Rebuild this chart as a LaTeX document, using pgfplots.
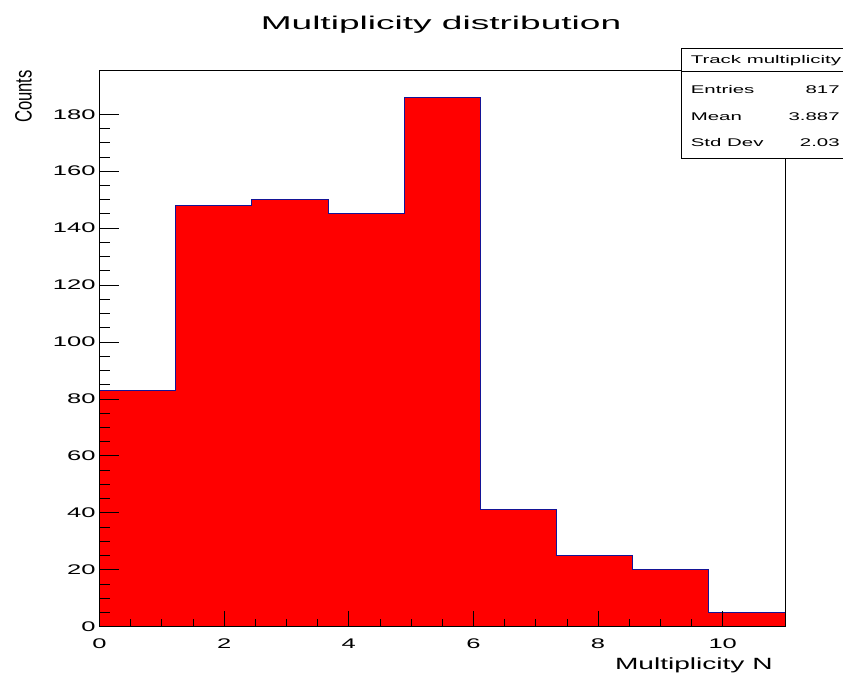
\documentclass[border=0pt]{standalone}
\usepackage{fontspec}
\setmainfont{Liberation Sans}
\usepackage{graphicx}
\usepackage{pgfplots}
\pgfplotsset{compat=1.18}
\definecolor{histline}{RGB}{20,20,150}
% the original canvas was stretched sideways; text is widened to match
\newcommand{\sx}{1.83}

\begin{document}
\begin{tikzpicture}[x=1bp,y=1bp]
\useasboundingbox (0,0) rectangle (843,673);
\begin{axis}[
  at={(99.5bp,46.3bp)}, anchor=south west, scale only axis,
  width=685.5bp, height=556bp,
  xmin=0, xmax=11, ymin=0, ymax=195.3,
  xtick={0,2,...,10}, ytick={0,20,...,180},
  minor x tick num=3, minor y tick num=3,
  tick pos=left, tick align=inside,
  major tick length=20bp, minor tick length=10bp,
  xtick style={/pgfplots/major tick length=16bp, /pgfplots/minor tick length=8bp},
  axis on top,
  axis line style={black, line width=1bp},
  tick style={black, line width=0.8bp},
  /pgf/number format/assume math mode=true,
  tick label style={font=\fontsize{14}{14}\selectfont, xscale=\sx, inner sep=2bp},
  xticklabel style={yshift=-10bp},
]
\addplot[const plot, fill=red, draw=histline, line width=1bp] coordinates {
  (0,83) (1.2222,148) (2.4444,150) (3.6667,145) (4.8889,186)
  (6.1111,41) (7.3333,25) (8.5556,20) (9.7778,5) (11,5)} \closedcycle;
\end{axis}

% title and axis titles
\node[anchor=base, xscale=2.0, font=\fontsize{18.6}{18.6}\selectfont] at (441,643) {Multiplicity distribution};
\node[anchor=base east, xscale=1.73, font=\fontsize{16.3}{16.3}\selectfont, inner sep=0pt] at (773,3) {Multiplicity N};
\node[rotate=90, font=\fontsize{16.7}{16.7}\selectfont, inner sep=0pt] at (23.5,576.5) {\scalebox{1}[1.42]{Counts}};

% stats box
\draw[fill=white, line width=1bp] (681,514.7) rectangle (860,624.7);
\draw[line width=0.8bp] (681,601.3) -- (860,601.3);
\begin{scope}[every node/.style={xscale=\sx, font=\fontsize{11.2}{11.2}\selectfont, inner sep=0pt}]
\node[anchor=base west] at (690.5,609) {Track multiplicity};
\node[anchor=base west] at (690.5,579) {Entries};
\node[anchor=base east] at (840,579) {817};
\node[anchor=base west] at (690.5,552.3) {Mean};
\node[anchor=base east] at (840,552.3) {3.887};
\node[anchor=base west] at (690.5,526.3) {Std Dev};
\node[anchor=base east] at (840,526.3) {2.03};
\end{scope}
\end{tikzpicture}
\end{document}
